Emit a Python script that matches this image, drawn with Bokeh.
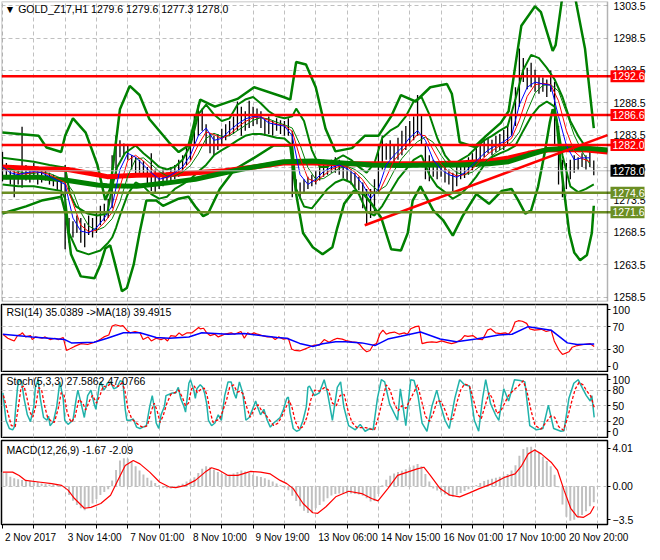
from bokeh.plotting import figure
from bokeh.layouts import column
from bokeh.models import Range1d, FixedTicker, Label, Span, Grid, BoxAnnotation
from bokeh.embed import file_html
from bokeh.resources import INLINE

FONT = "Liberation Sans"
GRIDC = "#C0C0C0"
DASH = "4 3"
GREEN = "#008000"
OLIVE = "#6B8E23"

# ---------------- time axis (H1 bar index) ----------------
time_ticks = [0, 32, 64, 96, 128, 160, 192, 224, 256, 288]
time_labels = ["2 Nov 2017", "3 Nov 14:00", "7 Nov 01:00", "8 Nov 10:00", "9 Nov 19:00",
               "13 Nov 06:00", "14 Nov 15:00", "16 Nov 01:00", "17 Nov 10:00", "20 Nov 20:00"]
grid_ticks = [0, 16, 32, 48, 64, 80, 96, 112, 128, 144, 160, 176, 192, 208, 224, 240, 256, 272, 288, 304]

# ---------------- price bars (every second H1 bar) ----------------
bar_high = [1280.9,1279.2,1278.9,1278.2,1278.6,1284.8,1278.9,1278.5,1279.2,1278.6,
            1278.2,1278.3,1277.7,1277.4,1276.9,1276.7,1278.9,1270.7,1270.2,1271.1,
            1270.7,1269.9,1271.1,1270.7,1271.7,1272.6,1272.9,1273.7,1280.4,1283.4,
            1282.7,1282.2,1281.9,1280.4,1280.1,1279.7,1279.5,1278.6,1280.7,1278.2,
            1277.7,1278.2,1277.7,1278.6,1278.9,1279.7,1280.4,1281.9,1283.4,1286.7,
            1288.2,1287.6,1285.2,1283.7,1283.4,1283.7,1284.5,1285.2,1285.7,1286.4,
            1288.7,1287.9,1287.2,1288.8,1287.9,1287.6,1287.2,1286.1,1286.4,1285.8,
            1286.1,1285.8,1285.7,1286.1,1284.2,1276.7,1276.2,1276.7,1277.1,1277.4,
            1278.0,1278.9,1279.7,1279.2,1279.7,1280.1,1279.7,1279.2,1278.6,1278.2,
            1277.7,1277.1,1276.2,1275.2,1275.2,1276.7,1281.9,1283.4,1282.2,1282.7,
            1281.9,1283.1,1284.2,1284.9,1285.7,1286.4,1289.7,1286.7,1282.2,1280.4,
            1279.7,1279.2,1279.2,1278.9,1278.2,1277.7,1278.6,1279.7,1279.2,1280.1,
            1280.7,1281.9,1282.2,1282.7,1283.1,1282.8,1283.4,1283.7,1284.3,1284.9,
            1287.2,1290.9,1296.9,1295.4,1293.9,1294.7,1293.6,1292.7,1292.4,1292.1,
            1293.5,1291.7,1284.9,1279.7,1279.2,1279.7,1280.4,1280.1,1280.7,1280.4,
            1280.9,1279.6]
bar_low = [1276.4,1276.7,1275.9,1273.9,1275.9,1275.4,1276.5,1276.2,1276.7,1275.9,
           1276.2,1276.5,1275.9,1275.6,1275.0,1273.9,1265.9,1266.9,1267.7,1268.4,
           1266.9,1266.2,1268.1,1267.7,1268.4,1269.6,1270.2,1270.7,1272.2,1276.7,
           1280.1,1280.4,1279.7,1278.2,1277.4,1277.7,1277.1,1275.9,1274.9,1274.4,
           1275.2,1275.6,1275.9,1276.2,1276.7,1277.1,1277.7,1278.9,1279.7,1281.9,
           1283.4,1284.2,1281.9,1280.7,1280.4,1281.2,1281.9,1282.7,1283.4,1283.7,
           1284.2,1283.4,1284.2,1284.6,1284.9,1285.2,1284.6,1283.4,1283.7,1283.4,
           1284.2,1283.7,1283.4,1283.4,1273.9,1274.4,1273.7,1274.7,1275.2,1275.6,
           1275.9,1276.5,1277.1,1277.4,1277.7,1277.7,1277.4,1276.9,1276.4,1275.9,
           1275.4,1275.0,1272.2,1269.6,1270.7,1271.4,1274.4,1278.2,1279.7,1279.7,
           1278.6,1279.7,1280.4,1281.2,1281.9,1282.7,1283.4,1281.9,1276.7,1276.4,
           1277.1,1276.7,1277.1,1276.2,1275.9,1274.9,1275.6,1276.7,1276.9,1277.4,
           1278.0,1278.6,1279.7,1280.1,1280.7,1280.4,1280.9,1281.2,1281.2,1281.9,
           1283.4,1284.9,1287.9,1291.7,1290.6,1290.9,1290.2,1289.9,1290.2,1289.4,
           1290.2,1281.9,1275.9,1273.9,1275.2,1276.7,1277.7,1278.2,1278.6,1278.2,
           1278.6,1277.3]
bar_x = list(range(0, 2 * len(bar_high), 2))

# ---------------- fast moving averages (every 4 bars) ----------------
ma_fast_x = list(range(0, 304, 4))
ma_blue = [1278.6,1277.7,1277.4,1277.7,1277.9,1277.7,1277.1,1276.5,1275.9,1270.7,
           1268.7,1268.4,1269.2,1270.7,1272.6,1278.2,1280.7,1280.1,1278.9,1277.7,
           1276.7,1277.0,1277.7,1278.6,1280.4,1283.4,1284.6,1282.7,1283.0,1284.2,
           1285.2,1286.0,1286.4,1286.3,1285.4,1285.1,1284.9,1283.4,1277.4,1275.9,
           1276.7,1277.9,1278.5,1278.9,1278.3,1277.4,1275.9,1273.7,1275.2,1278.9,
           1280.4,1281.6,1283.1,1284.2,1282.7,1279.7,1278.2,1277.4,1277.0,1277.7,
           1278.9,1280.1,1281.2,1281.9,1282.5,1283.4,1288.2,1290.9,1291.7,1291.4,
           1291.2,1286.4,1281.9,1279.7,1280.0,1280.0]
ma_red_thin = [1278.6,1278.1,1277.6,1277.5,1277.8,1277.8,1277.4,1276.8,1276.2,1273.0,
               1269.6,1268.6,1268.8,1270.0,1271.6,1275.5,1279.6,1280.4,1279.5,1278.3,
               1277.2,1276.9,1277.4,1278.2,1279.5,1282.0,1284.0,1283.6,1283.0,1283.6,
               1284.7,1285.6,1286.2,1286.3,1285.8,1285.2,1285.0,1284.1,1280.0,1276.8,
               1276.3,1277.3,1278.2,1278.7,1278.6,1277.8,1276.6,1274.8,1274.5,1277.0,
               1279.6,1281.0,1282.3,1283.6,1283.4,1281.2,1279.0,1277.8,1277.2,1277.4,
               1278.3,1279.5,1280.6,1281.5,1282.2,1283.0,1285.8,1289.5,1291.3,1291.5,
               1291.3,1288.8,1284.2,1281.0,1279.9,1279.4]
ma_green_thin = [1278.4,1278.3,1277.9,1277.6,1277.6,1277.8,1277.6,1277.1,1276.5,1274.8,
                 1271.6,1269.5,1268.8,1269.3,1270.6,1273.2,1277.2,1279.8,1280.0,1279.0,
                 1277.9,1277.2,1277.2,1277.8,1278.8,1280.6,1283.0,1283.8,1283.3,1283.4,
                 1284.2,1285.0,1285.8,1286.2,1286.0,1285.5,1285.1,1284.6,1282.0,1278.5,
                 1276.7,1276.8,1277.6,1278.4,1278.7,1278.2,1277.3,1275.9,1274.9,1275.7,
                 1278.0,1279.9,1281.3,1282.5,1283.2,1282.4,1280.4,1278.7,1277.7,1277.4,
                 1277.8,1278.7,1279.8,1280.8,1281.6,1282.4,1284.0,1287.2,1290.0,1291.2,
                 1291.3,1290.3,1287.0,1283.5,1281.0,1279.0]

# ---------------- slow moving averages ----------------
ma_slow_x = [0, 18.5, 33.5, 48.5, 53.5, 68.5, 83.5, 98.5, 113.5, 128.5, 143.5, 158.5,
             173.5, 188.5, 203.5, 218.5, 233.5, 248.5, 258.5, 268.5, 278.5, 288.5, 298.5, 309]
ma_red_thick = [1278.6,1278.3,1278.2,1277.4,1277.1,1277.3,1277.4,1277.7,1278.0,1278.6,1279.2,1279.2,
                1279.1,1279.1,1279.1,1279.1,1279.2,1279.5,1280.0,1280.7,1281.2,1281.3,1281.2,1280.9]
ma_green_thick = [1277.0,1277.0,1276.5,1275.8,1275.7,1275.6,1276.1,1276.7,1277.7,1278.6,1279.4,1279.5,
                  1279.2,1278.9,1278.8,1278.9,1278.9,1279.1,1279.4,1280.4,1281.3,1281.5,1281.5,1281.2]

# ---------------- wide Bollinger envelope ----------------
bb_up_x = [0,18.5,22.5,30,32,36,42.5,48.5,52.5,55,60,65,70,75,85,90,95,101,108.5,120,128.5,143.5,147,
           150,155,160,165,170,178.5,185,192,198.5,203.5,211,218.5,227,229.5,232,233.5,241,247,254.5,
           258.5,262,265,272,275,281,282.5,286,292,297.5,302]
bb_up = [1283.9,1283.4,1281.6,1280.9,1283.4,1286.1,1283.9,1278.9,1273.5,1275.2,1287.5,1291.1,1289.7,
         1286.0,1282.4,1280.9,1281.9,1289.0,1287.9,1289.1,1290.9,1289.4,1289.0,1294.8,1294.4,1290.9,
         1284.5,1281.0,1281.5,1283.4,1283.4,1286.4,1289.7,1288.7,1290.9,1291.4,1289.9,1285.4,1282.4,
         1281.7,1283.4,1285.4,1287.2,1294.4,1300.4,1303.4,1302.5,1296.5,1297.4,1305.0,1305.5,1296.9,1284.6]
bb_lo_x = [0,12,20,30,32.5,35,40,47,50,52.5,55,57,61,63.5,67,70,73.5,78.5,82,90,95,98.5,102.5,105,
           111,118.5,128.5,138.5,147,150,153.5,158.5,163.5,168.5,171,174.5,179.5,184.5,188.5,193.5,
           198.5,203.5,207,209.5,213.5,220,225,230,235,242,248.5,255,260,263.5,267,270,273.5,277,
           279.5,281,283,285,287,289.5,292,295,298.5,301,302]
bb_lo = [1271.4,1272.5,1273.4,1274.0,1271.1,1265.1,1261.7,1261.4,1263.5,1266.0,1266.5,1264.2,1259.4,
         1259.9,1263.5,1268.4,1273.4,1273.4,1272.6,1273.7,1274.0,1272.5,1271.0,1271.4,1275.2,1278.2,
         1280.0,1281.9,1281.9,1274.4,1268.4,1266.2,1265.1,1266.2,1269.2,1272.9,1274.9,1274.4,1272.9,
         1270.7,1265.9,1265.7,1268.4,1273.4,1275.6,1271.9,1270.4,1268.0,1271.0,1274.4,1272.9,1274.9,
         1275.2,1273.4,1271.4,1271.9,1275.5,1280.9,1285.4,1287.5,1285.7,1279.4,1274.4,1268.4,1265.4,
         1264.2,1265.0,1268.4,1272.6]

# ---------------- narrow envelope (hugging price) ----------------
nb_up_x = [0,8,16,24,30,32,34.5,37.5,43.5,48.5,53.5,56,58.5,62.5,68,72,76,80,84,88,92,96,100,104,108,112,
           116,120,124,128,132,136,140,144,148,150,154,158,162,166,170,174,178,182,186,190,194,198,202,206,
           210,214,218,222,226,230,234,238,242,246,250,254,258,262,266,270,274,278,282,286,290,294,298,302]
nb_up = [1280.0,1279.7,1279.4,1278.9,1278.6,1278.5,1274.4,1272.5,1271.4,1271.1,1271.4,1275.5,1278.5,1280.7,
         1281.9,1280.7,1279.7,1278.6,1278.2,1278.6,1279.7,1281.9,1286.7,1288.2,1286.7,1285.7,1286.1,1288.2,
         1289.0,1289.4,1288.4,1287.2,1286.4,1286.1,1286.4,1287.6,1285.7,1281.2,1278.6,1278.6,1279.7,1280.4,
         1279.7,1278.6,1277.7,1279.2,1283.1,1284.2,1284.9,1286.4,1288.7,1289.4,1286.7,1283.1,1280.4,1278.9,
         1279.7,1280.4,1281.6,1282.7,1283.4,1284.2,1284.9,1289.1,1293.6,1295.9,1295.4,1293.9,1292.1,1289.4,
         1285.7,1283.4,1281.6,1280.9]
nb_lo_x = [0,8,16,24,30,32,34,38,44,50,54,56,58,60,64,68,72,76,80,84,88,92,96,100,104,108,112,116,120,124,
           128,132,136,140,144,148,150,154,158,162,166,170,174,178,182,186,190,194,198,202,206,210,214,218,
           222,226,230,234,238,242,246,250,254,258,262,266,270,274,278,282,286,290,294,298,302]
nb_lo = [1275.9,1275.6,1275.6,1275.2,1274.9,1273.7,1268.4,1265.7,1265.1,1265.7,1266.9,1267.7,1269.2,1271.1,
         1274.4,1276.2,1275.6,1274.4,1273.7,1274.0,1275.2,1275.9,1276.7,1277.9,1278.9,1280.4,1281.2,1281.9,
         1282.7,1283.4,1283.7,1283.7,1283.4,1283.1,1283.0,1281.9,1275.2,1272.5,1272.2,1273.7,1275.2,1276.2,
         1276.7,1276.2,1274.4,1271.7,1271.1,1272.6,1274.7,1276.7,1278.2,1279.7,1280.4,1277.4,1275.6,1274.7,
         1273.7,1274.4,1275.6,1277.1,1278.9,1280.1,1280.7,1281.2,1281.9,1284.2,1286.4,1287.9,1288.7,1287.9,
         1280.4,1275.6,1274.7,1275.2,1275.9]

# ---------------- objects ----------------
res_levels = [1292.6, 1286.6, 1282.0]
sup_levels = [1274.6, 1271.6]
last_price = 1278.0
trend_x = [185, 309]
trend_y = [1269.6, 1283.5]

# ---------------- RSI(14) and its MA(18) ----------------
rsi_pts = [(0.2,56.7),(2.7,49.5),(4.3,47.2),(6,44.8),(7.7,54.3),(9.3,56.7),(10.2,59.1),(11.8,51.9),(14.3,54.3),
           (15.2,47.2),(16.8,51.9),(20.2,49.5),(21.8,51.9),(24.3,47.2),(26.8,49.5),(28.5,47.2),(31,51),(31.8,40),
           (32.7,28.1),(34.3,30.5),(36.8,35.2),(40.2,40),(43.5,38.6),(46.8,42.4),(48.5,44.8),(50.2,48.1),
           (51.8,51.9),(54.3,55.3),(56,71),(57.7,73.3),(60.2,71),(61.5,71.9),(63.5,63.8),(65.2,59.1),(67.7,61.4),
           (70.2,59.1),(71.8,47.2),(74.3,51.9),(76,44.8),(78.5,49.5),(81,47.2),(82.7,49.5),(84.3,44.8),(86,54.3),
           (88.5,52.9),(90.2,59.1),(91.8,54.3),(94.3,59.1),(96.8,59.1),(100.2,68.6),(101,66.2),(102.7,67.2),
           (104.3,59.1),(106,54.3),(108.5,56.7),(110.2,51.9),(113.5,56.7),(116.8,59.1),(118.5,56.7),(121.8,61.4),
           (123.5,49.5),(125.2,59.1),(126.8,56.7),(128.5,59.1),(130.2,56.7),(132.7,54.3),(135.2,51.9),(137.7,51.9),
           (139.3,47.2),(141,51.9),(143.5,48.1),(146,49.5),(147.7,30.5),(149.3,28.1),(151.8,27.2),(154.3,30.5),
           (156,32.9),(159.3,37.6),(161.8,37.6),(164.3,47.2),(166.8,42.4),(169.3,47.2),(171,49.5),(173.5,48.1),
           (176,44.8),(178.5,43.3),(181,42.4),(182.7,37.6),(184.3,30.5),(186,25.7),(187.7,28.1),(189.3,37.6),
           (191,40),(192.7,56.7),(194.3,63.8),(196,56.7),(197.7,59.1),(200.2,60.5),(202.7,56.7),(205.2,59.1),
           (206.8,56.7),(208.5,66.2),(211,70),(212.7,71),(214.3,40),(216.8,42.4),(219.3,43.3),(221.8,42.4),
           (224.3,44.8),(226.8,42.4),(229.3,40),(231.8,42.4),(234.3,47.2),(236,54.3),(237.7,52.9),(240.2,54.3),
           (242.7,48.1),(245.2,47.2),(247.7,63.8),(249.3,66.2),(251.8,59.1),(254.3,57.6),(256.8,59.1),(258.5,56.7),
           (260.2,63.8),(261.8,78.1),(263.5,80.5),(265.5,79.5),(267.7,75.7),(269.3,66.2),(271.8,63.8),(275.2,65.3),
           (277.7,61.4),(280.2,63.8),(281.8,44.8),(284.3,28.1),(286,21),(287.7,23.3),(289.3,25.7),(291,33.8),
           (293.5,36.7),(296.8,38.6),(300.2,40),(302.2,35.0)]
rsi_ma_pts = [(0.2,56.7),(15.2,51.9),(31.8,47.2),(35.2,41.4),(46.8,42.4),(53.5,49.5),(61.8,59.1),(70.2,59.1),
              (78.5,51),(85.2,49.5),(95.2,51.9),(101.8,59.1),(115.2,56.7),(123.5,58.1),(131.8,54.3),(140.2,51),
              (145.2,49.5),(151.8,40.5),(158.5,35.2),(163.5,40),(170.2,43.3),(175.2,43.3),(183.5,41.4),
              (190.2,36.7),(196.8,48.1),(203.5,52.9),(213.5,60.5),(223.5,48.1),(231.8,43.3),(241.8,48.1),
              (253.5,55.3),(260.2,56.7),(268.5,70),(280.2,63.8),(288.5,41.4),(293.5,38.6),(302.2,39.5)]

# ---------------- Stochastic(5,3,3) ----------------
stoch_main_pts = [(0.2,74.7),(1,48.4),(1.8,22.1),(3.5,6.3),(5.2,3.7),(6,8.9),(6.8,48.4),(7.7,85.3),(8.5,100),
    (9.8,95.8),(11,64.2),(12.7,32.6),(14.3,19.5),(16,48.4),(16.8,85.3),(18.2,100),(19.3,64.2),(21,27.4),
    (22.7,22.1),(23.5,30),(24.3,11.6),(26,19.5),(27.7,48.4),(28.5,72.1),(29.3,95.8),(31,64.2),(31.8,22.1),
    (33.5,14.2),(36,22.1),(37.7,64.2),(38.5,80),(40.2,53.7),(41.8,27.4),(43.5,69.5),(45.2,80),(46.8,53.7),
    (47.7,43.2),(49.3,85.3),(50.2,95.8),(51.8,80),(52.7,85.3),(53.5,93.2),(55.2,95.8),(56.8,82.6),(58.5,85.3),
    (60.2,98.4),(61.5,95.8),(62.7,43.2),(63.5,22.1),(65.2,22.1),(66.8,24.7),(68.5,8.9),(70.2,6.3),(71.8,8.9),
    (73.5,11.6),(75.2,48.4),(76.5,69.5),(77.7,43.2),(78.5,16.8),(79.8,6.3),(81,32.6),(82.7,48.4),(83.5,69.5),
    (85.2,72.1),(86.8,74.7),(88.5,74.7),(89.8,85.3),(91,64.2),(92.7,48.4),(93.5,37.9),(95.2,93.2),(96,100),
    (97.7,80),(98.5,64.2),(99.3,82.6),(101,90.5),(102.2,85.3),(103.2,74.7),(104.3,53.7),(105.2,22.1),
    (106.8,11.6),(108.5,16.8),(110.2,32.6),(111.8,22.1),(113.5,69.5),(115.2,95.8),(116.8,95.8),(118.2,74.7),
    (119.3,64.2),(121,95.8),(122.7,74.7),(124.3,22.1),(126,27.4),(127.7,43.2),(129.3,59),(130.2,48.4),
    (131.8,32.6),(133.5,43.2),(135.2,22.1),(136.8,8.9),(138.5,16.8),(140.2,22.1),(141.8,27.4),(143.5,43.2),
    (145.2,64.2),(146,66.8),(146.8,37.9),(148.5,6.3),(150.2,1),(151.8,3.7),(153.5,22.1),(155.2,48.4),(156,85.3),
    (156.8,87.9),(159.3,69.5),(161.8,74.7),(164.3,100),(166,74.7),(168.5,22.1),(171,85.3),(172.7,95.8),
    (174.3,48.4),(176.8,11.6),(180.2,3.7),(182.7,14.2),(185.2,1),(187.7,6.3),(189.3,3.7),(191.5,64.2),
    (193.5,100),(195.2,95.8),(197.7,53.7),(201.8,22.1),(203.2,82.6),(206,11.6),(208.5,100),(210.2,98.4),
    (212.2,69.5),(214.3,16.8),(216.8,1),(219.3,48.4),(221.8,80),(223.5,53.7),(226,22.1),(228.2,6.3),(231,64.2),
    (233.5,100),(236,90.5),(238.5,87.9),(241,22.1),(243.2,1),(245.2,64.2),(246.8,100),(249.3,53.7),(251.8,32.6),
    (253.5,22.1),(256,82.6),(258.5,59),(261.5,100),(264.3,98.4),(266.8,95.8),(269.3,11.6),(272.7,3.7),(276,6.3),
    (278.8,51.1),(281.5,6.3),(285.2,1),(286.8,2),(289.3,64.2),(291.8,93.2),(294,100),(296,85.3),(298.2,69.5),
    (300.2,59),(301,69.5),(302.2,27.6)]
stoch_sig_pts = [(0.5,70),(2.5,40),(4.5,12),(6.5,10),(8,45),(9.5,85),(11,88),(12.5,65),(14,38),(15.5,28),(17,50),
    (18.5,85),(20,80),(21.5,50),(23,28),(25,20),(26.5,18),(28.5,45),(30,75),(31.5,70),(33,38),(35,18),(37,28),
    (39,62),(41,55),(42.5,42),(44.5,60),(46,70),(48,55),(50,72),(51.5,88),(53,86),(55,92),(57,88),(59,87),
    (61,94),(62.5,80),(64,45),(66,25),(68,18),(70,12),(72,8),(74,12),(76,40),(77.5,55),(79,40),(80.5,18),(82,30),
    (84,55),(86,72),(88,75),(90,80),(92,65),(93.5,50),(95,55),(96.5,82),(98,88),(99.5,75),(101.5,82),(103,84),
    (104.5,70),(106,40),(107.5,18),(109.5,22),(111,25),(112.5,40),(114.5,62),(116,85),(118,90),(120,76),
    (121.5,78),(123,72),(124.5,50),(126.5,28),(128.5,42),(130.5,52),(132.5,40),(134.5,32),(136.5,22),(138.5,12),
    (140.5,16),(142.5,28),(144.5,45),(146.5,60),(148,45),(149.5,20),(151.5,5),(153.5,10),(155.5,28),(157.5,62),
    (159.5,80),(162,78),(164.5,85),(166.5,80),(168.5,55),(170.5,50),(172.5,70),(174.5,72),(176.5,40),(178.5,18),
    (181,8),(183,8),(185.5,8),(188,5),(190,4),(192,28),(194,60),(196,90),(198,80),(200,55),(202,40),(204,50),
    (206,45),(208,60),(210,75),(212,90),(214,60),(216,30),(218,20),(220,35),(222,60),(224,58),(226,42),(228,22),
    (230,25),(232,55),(234,80),(236,92),(238.5,88),(240.5,62),(242.5,35),(244.5,25),(246.5,50),(248.5,75),
    (250.5,62),(252.5,35),(254.5,40),(256.5,55),(258.5,70),(261,80),(263.5,88),(266,98),(268,75),(270,40),
    (272,12),(275,5),(278,20),(280,30),(282,28),(284,10),(286.5,3),(288.5,25),(290.5,55),(292.5,82),(294.5,95),
    (296.5,90),(298.5,78),(300.5,68),(302.2,47.1)]

# ---------------- MACD(12,26,9) ----------------
macd_hist = [1.5,1.4,1.0,0.85,0.75,0.65,0.6,0.55,0.5,0.45,
             0.3,0.25,0.2,0.2,0.15,0.05,-0.1,-0.9,-1.5,-1.95,
             -2.3,-2.5,-2.2,-1.8,-1.35,-0.9,-0.6,-0.3,0.6,1.7,
             2.7,2.95,2.9,2.55,2.1,1.66,1.25,0.9,0.6,0.35,
             0.1,-0.14,-0.2,-0.22,-0.1,0.1,0.28,0.5,0.72,0.95,
             1.4,1.83,2.1,2.0,1.75,1.5,1.3,1.2,1.2,1.35,
             1.5,1.66,1.55,1.4,1.2,1.05,0.97,0.85,0.7,0.5,
             0.3,0.1,-0.15,-0.4,-1.0,-1.55,-2.1,-2.55,-2.8,-2.75,
             -2.3,-1.97,-1.6,-1.25,-0.95,-0.8,-0.76,-0.76,-0.76,-0.76,
             -0.8,-0.85,-1.0,-1.25,-1.6,-1.55,-0.8,0.1,0.7,1.1,
             1.35,1.5,1.62,1.8,2.0,2.18,2.33,2.1,1.3,0.5,
             -0.24,-0.45,-0.65,-0.85,-1.0,-1.1,-0.9,-0.7,-0.5,-0.3,
             -0.07,0.15,0.35,0.55,0.68,0.8,0.9,1.0,1.1,1.3,
             1.66,2.2,3.2,3.92,4.1,4.15,3.92,3.5,3.1,2.65,
             2.1,1.2,-0.1,-1.9,-3.2,-3.6,-3.5,-3.3,-3.0,-2.6,
             -2.1,-1.67]
macd_sig_pts = [(0.2,1.49),(5.2,1.49),(8.5,1.14),(11.8,0.62),(18.5,0.45),(25.2,0.28),(30.2,0.1),(33.5,-0.4),
    (36.8,-1.28),(41.8,-2.3),(45.2,-2.2),(50.2,-1.8),(55.2,-0.93),(58.5,0.45),(62.7,2.18),(66.8,2.7),(70.2,2.35),
    (75.2,1.49),(80.2,0.45),(85.2,-0.07),(88.5,-0.14),(93.5,0.1),(98.5,0.62),(103.5,1.49),(106.8,1.94),
    (110.2,1.73),(115.2,1.14),(120.2,1.14),(126.8,1.56),(131.8,1.49),(136.8,1.3),(141.8,0.62),(145.2,0.28),
    (148.5,-0.24),(153.5,-1.8),(158.5,-2.77),(161,-2.83),(165.2,-2.14),(170.2,-1.1),(176.8,-0.52),(183.5,-0.76),
    (188.5,-1.28),(191.8,-1.52),(196.8,-0.24),(201.8,1.14),(206.8,1.49),(211.8,1.83),(215.2,2.0),(218.5,1.14),
    (223.5,-0.24),(228.5,-0.93),(233.5,-1.1),(238.5,-0.69),(243.5,-0.24),(250.2,0.28),(256.8,0.97),(261.8,1.3),
    (265.2,2.18),(268.5,3.4),(271.8,3.8),(275.2,3.4),(280.2,2.53),(283.5,1.66),(286.8,-0.4),(290.2,-2.3),
    (293.5,-3.18),(296.8,-3.25),(300.2,-2.83),(302.2,-2.09)]

# ---------------- texts ----------------
main_title = "\u25BC GOLD_Z17,H1  1279.6 1279.6 1277.3 1278.0"
rsi_title = "RSI(14) 35.0389  ->MA(18) 39.4915"
stoch_title = "Stoch(5,3,3) 27.5862 47.0766"
macd_title = "MACD(12,26,9) -1.67 -2.09"
price_ticks = [1258.5, 1263.5, 1268.5, 1273.5, 1278.5, 1283.5, 1288.5, 1293.5, 1298.5, 1303.5]
rsi_ticks = [0, 30, 70, 100]
rsi_levels = [30, 70]
stoch_ticks = [0, 20, 50, 80, 100]
stoch_levels = [20, 50, 80]
macd_ticks = [-3.5, 0, 4.01]


def unzip(pts):
    return [a for a, _ in pts], [b for _, b in pts]


CHART_END = 309            # right border of the chart area (bar units)
XR = Range1d(-0.5, CHART_END)
XR_MAIN = Range1d(-0.5, 327.9)   # main panel frame also covers the price-scale strip
FW = 606
PX_PER_BAR = FW / (CHART_END + 0.5)

# time labels start at their tick (MetaTrader style): centre each label half its width to the right
_CW = {" ": 2.78, "N": 7.22, "o": 5.56, "v": 5.0, ":": 2.78}
def _text_w10(s):
    return sum(_CW.get(c, 5.56) for c in s)
label_centres = [round(t + (_text_w10(s) / 2 + 2.5) / PX_PER_BAR, 3) for t, s in zip(time_ticks, time_labels)]


def style_yaxis(ax, yticks, tick_out, standoff, size="10.5px"):
    ax.ticker = FixedTicker(ticks=yticks)
    ax.major_label_text_font = FONT
    ax.major_label_text_font_size = size
    ax.major_label_text_color = "black"
    ax.major_tick_in = 0
    ax.major_tick_out = tick_out
    ax.major_tick_line_color = "black" if tick_out else None
    ax.minor_tick_line_color = None
    ax.major_label_standoff = standoff


def add_grids(f, ygrid):
    for g in f.grid:
        g.visible = False
    f.add_layout(Grid(dimension=0, ticker=FixedTicker(ticks=grid_ticks), grid_line_color=GRIDC,
                      grid_line_dash=DASH, grid_line_width=1))
    f.add_layout(Grid(dimension=1, ticker=FixedTicker(ticks=ygrid), grid_line_color=GRIDC,
                      grid_line_dash=DASH, grid_line_width=1))


def make_fig(frame_h, yr, yticks, ygrid, top, bottom, xaxis=False):
    f = figure(frame_width=FW, frame_height=frame_h, x_range=XR, y_range=Range1d(*yr),
               output_backend="svg", toolbar_location=None,
               x_axis_location="below" if xaxis else None, y_axis_location="right",
               min_border_left=1, min_border_right=0, min_border_top=top, min_border_bottom=bottom,
               background_fill_color="white", border_fill_color="white",
               outline_line_color="black", outline_line_width=1.5)
    add_grids(f, ygrid)
    ax = f.yaxis[0]
    ax.axis_line_color = "black"
    style_yaxis(ax, yticks, 3, 2)
    return f


def title(f, x, y, text):
    f.add_layout(Label(x=x, y=y, text=text, text_font=FONT, text_font_size="10.5px",
                       text_color="black", text_baseline="middle", text_align="left"))


# ================= main price panel =================
pm = figure(frame_width=643, frame_height=300, x_range=XR_MAIN, y_range=Range1d(1257.82, 1304.14),
            output_backend="svg", toolbar_location=None, x_axis_location=None, y_axis_location="right",
            min_border_left=1, min_border_right=0, min_border_top=1, min_border_bottom=1,
            background_fill_color="white", border_fill_color="white", outline_line_color=None)
add_grids(pm, price_ticks)
# blank price-scale strip to the right of the chart area
pm.add_layout(BoxAnnotation(left=CHART_END, fill_color="white", fill_alpha=1.0, line_color=None,
                            level="underlay"))
pm.yaxis[0].axis_line_color = None
style_yaxis(pm.yaxis[0], price_ticks, 0, -31)

pm.add_layout(Span(location=last_price, dimension="width", line_color=GRIDC, line_width=1))
pm.segment(x0=bar_x, y0=bar_low, x1=bar_x, y1=bar_high, line_color="black", line_width=1.3)
pm.line(bb_up_x, bb_up, line_color=GREEN, line_width=2.5)
pm.line(bb_lo_x, bb_lo, line_color=GREEN, line_width=2.5)
pm.line(nb_up_x, nb_up, line_color=GREEN, line_width=2)
pm.line(nb_lo_x, nb_lo, line_color=GREEN, line_width=2)
pm.line(ma_slow_x, ma_red_thick, line_color="red", line_width=5)
pm.line(ma_slow_x, ma_green_thick, line_color=GREEN, line_width=5)
pm.line(ma_fast_x, ma_green_thin, line_color=GREEN, line_width=1)
pm.line(ma_fast_x, ma_red_thin, line_color="red", line_width=1)
pm.line(ma_fast_x, ma_blue, line_color="blue", line_width=1)
for lv in res_levels:
    pm.add_layout(Span(location=lv, dimension="width", line_color="red", line_width=2.5))
for lv in sup_levels:
    pm.add_layout(Span(location=lv, dimension="width", line_color=OLIVE, line_width=2.5))
pm.line(trend_x, trend_y, line_color="red", line_width=2.5)
# chart-area border (stops at the price scale)
pm.add_layout(BoxAnnotation(right=CHART_END, fill_alpha=0, fill_color=None, line_color="black",
                            line_width=1.5, level="overlay"))
title(pm, 1.2, 1303.0, main_title)
for lv, bg in [(res_levels[0], "red"), (res_levels[1], "red"), (res_levels[2], "red"),
               (last_price, "black"), (sup_levels[0], OLIVE), (sup_levels[1], OLIVE)]:
    pm.add_layout(Label(x=CHART_END, y=lv, x_offset=3, text=f"{lv:.1f}", text_font=FONT,
                        text_font_size="10.5px", text_color="white", text_baseline="middle",
                        text_align="left", background_fill_color=bg, padding=2, level="overlay"))

# ================= RSI =================
pr = make_fig(67, (-9, 109), rsi_ticks, rsi_levels, 2, 1)
rx, rv = unzip(rsi_pts)
mx, mv = unzip(rsi_ma_pts)
pr.line(rx, rv, line_color="red", line_width=1.2)
pr.line(mx, mv, line_color="blue", line_width=1.5)
title(pr, 2, 96.5, rsi_title)

# ================= Stochastic =================
ps = make_fig(63, (-11, 110), stoch_ticks, stoch_levels, 2, 1)
sx, sv = unzip(stoch_main_pts)
gx, gv = unzip(stoch_sig_pts)
ps.line(sx, sv, line_color="#20B2AA", line_width=1.5)
ps.line(gx, gv, line_color="red", line_width=1.3, line_dash="3 2")
title(ps, 2, 98, stoch_title)

# ================= MACD =================
pd = make_fig(84, (-4.0, 4.8), macd_ticks, [0], 2, 0, xaxis=True)
pd.yaxis[0].major_label_overrides = {0: "0.00"}
pd.vbar(x=bar_x, top=macd_hist, bottom=0, width=1.0, fill_color=GRIDC, line_color=None)
qx, qv = unzip(macd_sig_pts)
pd.line(qx, qv, line_color="red", line_width=1.2)
title(pd, 2, 3.8, macd_title)
xa = pd.xaxis[0]
xa.ticker = FixedTicker(ticks=label_centres, minor_ticks=grid_ticks)
xa.major_label_overrides = {c: s for c, s in zip(label_centres, time_labels)}
xa.major_label_text_font = FONT
xa.major_label_text_font_size = "10px"
xa.major_label_text_color = "black"
xa.axis_line_color = "black"
xa.major_tick_line_color = None
xa.major_tick_in = 0
xa.major_tick_out = 4
xa.minor_tick_line_color = "black"
xa.minor_tick_in = 0
xa.minor_tick_out = 4
xa.major_label_standoff = 3

layout = column(pm, pr, ps, pd, spacing=0)
open("out.html", "w").write(file_html(layout, INLINE))
